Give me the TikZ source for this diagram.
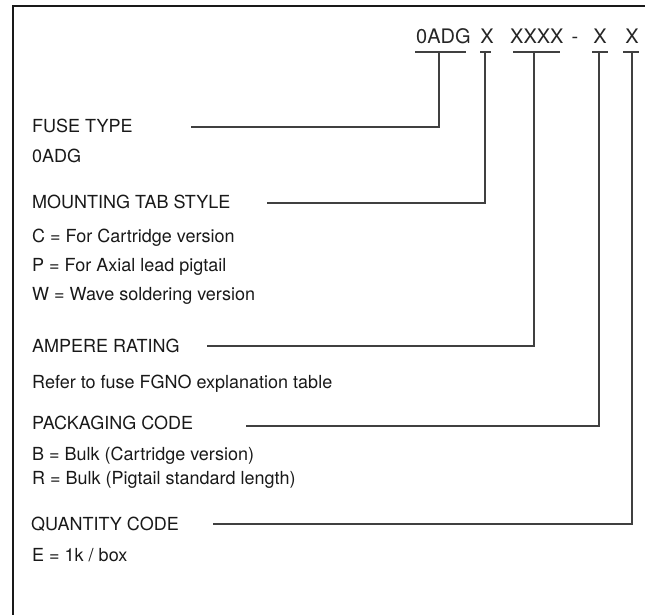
\documentclass[tikz,border=0pt]{standalone}
\usepackage{fontspec}
\setmainfont{TeX Gyre Heros}
\begin{document}
\begin{tikzpicture}[x=1pt,y=-1pt,
  txt/.style={anchor=base west,inner sep=0pt,text=black!90,font=\fontsize{18}{21}\selectfont},
  hdr/.style={anchor=base,inner sep=0pt,text=black!85,font=\fontsize{20}{23}\selectfont},
  conn/.style={draw=black!75,line width=1.4pt},
  frame/.style={draw=black!90,line width=1.6pt}]
\useasboundingbox (0,0) rectangle (645,615);
% frame
\coordinate (fbl) at (13,615);
\coordinate (ftl) at (13,6);
\coordinate (ftr) at (645,6);
\draw[frame] (fbl) -- (ftl) -- (ftr);
% header code
\node[hdr,anchor=base west] (h1) at (416,44) {0ADG};
\node[hdr] (h2) at (487,44) {X};
\node[hdr,anchor=base west] (h3) at (510,44) {XXXX};
\node[hdr] (h4) at (575,44) {-};
\node[hdr] (h5) at (600,44) {X};
\node[hdr] (h6) at (632,44) {X};
% underlines
\coordinate (u1a) at (415,52); \coordinate (u1b) at (466,52); \coordinate (u1) at (439,52);
\coordinate (u2a) at (480,52); \coordinate (u2b) at (491,52); \coordinate (u2) at (485,52);
\coordinate (u3a) at (513,52); \coordinate (u3b) at (560,52); \coordinate (u3) at (534,52);
\coordinate (u5a) at (592,52); \coordinate (u5b) at (608,52); \coordinate (u5) at (599,52);
\coordinate (u6a) at (623,52); \coordinate (u6b) at (639,52); \coordinate (u6) at (632,52);
\foreach \n in {1,2,3,5,6} {\draw[conn] (u\n a) -- (u\n b);}
% headings and descriptions
\node[txt] (t1) at (32,132.5) {FUSE TYPE};
\node[txt] (d1) at (32,162) {0ADG};
\node[txt] (t2) at (32,208.5) {MOUNTING TAB STYLE};
\node[txt] (d2a) at (32,242) {C = For Cartridge version};
\node[txt] (d2b) at (32,271) {P = For Axial lead pigtail};
\node[txt] (d2c) at (32,300) {W = Wave soldering version};
\node[txt] (t3) at (32,352) {AMPERE RATING};
\node[txt] (d3) at (32,388) {Refer to fuse FGNO explanation table};
\node[txt] (t4) at (32,429) {PACKAGING CODE};
\node[txt] (d4a) at (32,460) {B = Bulk (Cartridge version)};
\node[txt] (d4b) at (32,484) {R = Bulk (Pigtail standard length)};
\node[txt] (t5) at (31,530) {QUANTITY CODE};
\node[txt] (d5) at (32,561) {E = 1k / box};
% connector starts
\coordinate (s1) at (191,127);
\coordinate (s2) at (267,203);
\coordinate (s3) at (207,346);
\coordinate (s4) at (246,426);
\coordinate (s5) at (213,524);
\draw[conn] (s1) -| (u1);
\draw[conn] (s2) -| (u2);
\draw[conn] (s3) -| (u3);
\draw[conn] (s4) -| (u5);
\draw[conn] (s5) -| (u6);
\end{tikzpicture}
\end{document}
